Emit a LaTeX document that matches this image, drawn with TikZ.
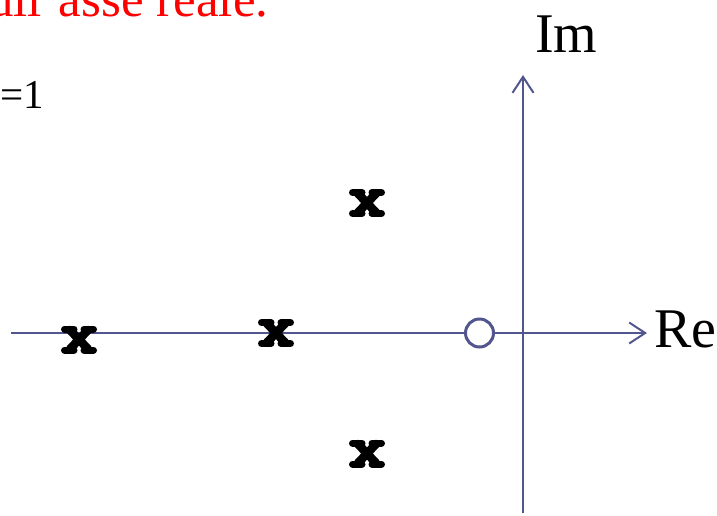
\documentclass[tikz,border=0pt]{standalone}
\usepackage{fontspec}
\setmainfont{Liberation Serif}
\usetikzlibrary{arrows.meta}
\definecolor{axiscol}{RGB}{82,86,142}
\begin{document}
\begin{tikzpicture}[x=1pt,y=-1pt,
  axis/.style={draw=axiscol,line width=2pt,-{Straight Barb[length=16pt,width=21pt,line width=2pt]}},
  lbl/.style={inner sep=0pt,anchor=base west,font=\fontsize{56}{56}\selectfont},
  polex/.pic={
    \draw[line width=8.5pt,line cap=round] (-9,-9.5) -- (9,9.5) (-9,9.5) -- (9,-9.5);
    \draw[line width=7pt,line cap=round] (-14.5,-10.5) -- (-5,-10.5) (5,-10.5) -- (14.5,-10.5)
      (-14.5,10.5) -- (-5,10.5) (5,10.5) -- (14.5,10.5);
  }]
\useasboundingbox (0,0) rectangle (717,515);
\clip (0,0) rectangle (717,515);
\node[inner sep=0pt,anchor=base west,text=red,font=\fontsize{51}{51}\selectfont] (title) at (-32,16) {sull'asse reale.};
\node[inner sep=0pt,anchor=base west,font=\fontsize{41}{41}\selectfont] (gain) at (0,108) {=1};
\coordinate (xl) at (11,333);
\coordinate (xr) at (647,333);
\coordinate (yb) at (523,513);
\coordinate (yt) at (523,75);
\draw[axis] (xl) -- (xr);
\draw[axis] (yb) -- (yt);
\node[lbl] (im) at (535,52) {Im};
\node[lbl] (re) at (654,347) {Re};
\node[draw=axiscol,line width=3pt,circle,fill=white,minimum size=28pt,inner sep=0pt] (z1) at (479.5,333) {};
\pic (p1) at (79,339.5) {polex};
\pic (p2) at (276,333) {polex};
\pic (p3) at (367,203) {polex};
\pic (p4) at (367,453.5) {polex};
\end{tikzpicture}
\end{document}
